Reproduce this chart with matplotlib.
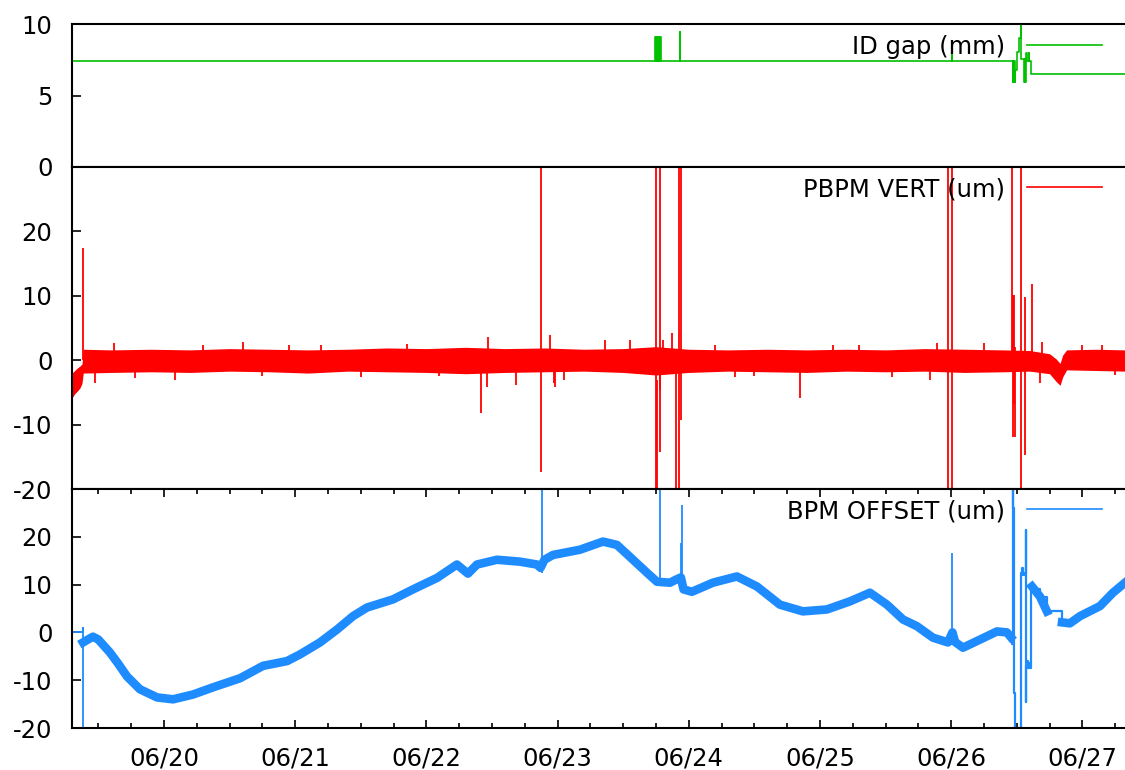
import numpy as np
import matplotlib
matplotlib.use("Agg")
import matplotlib.pyplot as plt
import matplotlib.dates as mdates
from datetime import datetime

# time axis is in "day of June" (decimal), converted to datetimes below
x_start, x_end = 19.299, 27.325

# ID gap (mm), step trace
gap_day = [19.299, 23.742, 23.748, 23.752, 23.758, 23.762, 23.768, 23.772, 23.778, 23.782, 23.788,
           23.932, 23.936, 26.004, 26.008, 26.468, 26.472, 26.476, 26.480, 26.484, 26.489,
           26.499, 26.517, 26.532, 26.536, 26.555, 26.562, 26.566, 26.570, 26.580, 26.590,
           26.593, 26.608, 27.325]
gap_val = [7.41, 9.1, 7.41, 9.1, 7.41, 9.1, 7.41, 9.1, 7.41, 9.1, 7.41,
           9.44, 7.41, 8.3, 7.41, 5.97, 7.41, 5.97, 7.41, 5.97, 6.78,
           8.06, 9.0, 9.93, 7.57, 5.97, 7.57, 5.97, 7.97, 7.41, 7.97,
           7.41, 6.5, 6.5]

# PBPM VERT (um): noise envelope
pbpm_day = [19.299, 19.320, 19.340, 19.360, 19.375, 19.385, 19.6, 19.9, 20.2, 20.5, 20.8, 21.1,
            21.4, 21.7, 22.0, 22.3, 22.6, 22.9, 23.2, 23.5, 23.75, 24.0, 24.3, 24.6, 24.9,
            25.2, 25.5, 25.8, 26.1, 26.4, 26.6, 26.75, 26.80, 26.83, 26.85, 26.88, 27.1, 27.325]
pbpm_hi = [-2.0, -1.6, -1.2, -0.9, -0.6, 1.7, 1.6, 1.7, 1.6, 1.8, 1.7, 1.6,
           1.7, 1.9, 1.8, 2.0, 1.8, 1.9, 1.7, 1.8, 2.1, 1.7, 1.6, 1.7, 1.6,
           1.7, 1.6, 1.8, 1.7, 1.6, 1.5, 1.0, 0.2, -0.5, 0.8, 1.6, 1.7, 1.6]
pbpm_lo = [-5.9, -5.2, -4.8, -4.3, -3.6, -2.0, -1.9, -1.8, -1.9, -1.7, -1.8, -2.0,
           -1.7, -1.8, -1.9, -2.1, -1.9, -1.8, -1.7, -1.9, -2.3, -1.9, -1.7, -1.8, -1.9,
           -1.7, -1.8, -1.7, -1.9, -1.8, -1.7, -2.1, -3.3, -3.9, -2.6, -1.5, -1.6, -1.7]
# small excursions out of the noise band
pbpm_blip_day = [19.474, 19.62, 19.78, 20.084, 20.3, 20.602, 20.75, 20.95, 21.2, 21.5, 21.85,
                 22.1, 22.462, 22.47, 22.683, 22.942, 22.973, 22.98, 23.049, 23.361, 23.552,
                 23.803, 23.872, 24.2, 24.35, 24.5, 24.848, 25.1, 25.3, 25.55, 25.838, 25.89,
                 26.25, 26.677, 26.69, 27.0, 27.15, 27.25]
pbpm_blip_val = [-3.6, 2.6, -2.8, -3.1, 2.4, 2.9, -2.5, 2.4, 2.3, -2.6, 2.5,
                 -2.4, -4.2, 3.6, -3.9, 3.9, -3.6, -4.2, -3.1, 3.1, 3.1,
                 3.1, 4.2, 2.3, -2.6, -2.5, -5.9, 2.4, 2.4, -2.6, -3.1, 2.6,
                 2.6, -3.6, 2.8, 2.4, 2.4, -2.3]
# big spikes (day, low, high)
pbpm_spike_day = [19.383, 22.414, 22.877, 23.752, 23.756, 23.778, 23.782, 23.902, 23.929, 23.944,
                  25.976, 26.006, 26.466, 26.472, 26.478, 26.485, 26.536, 26.564, 26.613]
pbpm_spike_lo = [0, -8.2, -17.3, -20, -20, -14.3, -4.7, -20, -20, -9.3,
                 -20, -20, -1, -11.9, -6.8, -11.9, -20, -14.7, 0]
pbpm_spike_hi = [17.4, 0, 30, 30, -3, 30, 1, 1, 30, 30,
                 30, 30, 30, 10.1, 10.1, 2, 30, 9.8, 11.9]

# BPM OFFSET (um): drift trace
bpm_day = [19.383, 19.42, 19.459, 19.50, 19.588, 19.65, 19.718, 19.817, 19.947, 20.069, 20.221,
           20.373, 20.579, 20.755, 20.938, 21.037, 21.189, 21.319, 21.441, 21.547, 21.745,
           21.898, 22.081, 22.233, 22.317, 22.386, 22.538, 22.713, 22.843, 22.87, 22.9, 22.965,
           23.171, 23.346, 23.453, 23.575, 23.681, 23.758, 23.857, 23.90, 23.940, 23.96, 24.024,
           24.184, 24.367, 24.520, 24.695, 24.870, 25.053, 25.229, 25.381, 25.511, 25.633,
           25.739, 25.861, 25.976, 26.01, 26.03, 26.090, 26.220, 26.349, 26.425, 26.455, np.nan,
           26.616, 26.677, 26.730, np.nan, 26.845, 26.905, 26.982, 27.134, 27.233, 27.325]
bpm_val = [-2.1, -1.5, -0.9, -1.5, -4.2, -6.5, -9.2, -11.9, -13.6, -14.0, -13.0,
           -11.5, -9.6, -7.0, -6.0, -4.6, -2.1, 0.6, 3.4, 5.2, 6.9,
           9.0, 11.4, 14.2, 12.3, 14.2, 15.2, 14.8, 14.2, 13.5, 15.2, 16.2,
           17.3, 19.0, 18.3, 15.2, 12.5, 10.6, 10.4, 11.0, 11.5, 9.0, 8.5,
           10.4, 11.7, 9.6, 5.8, 4.4, 4.8, 6.5, 8.3, 5.8, 2.7,
           1.3, -1.1, -2.1, 0.0, -2.0, -3.2, -1.5, 0.2, 0.0, -1.0, np.nan,
           9.6, 7.5, 4.4, np.nan, 2.1, 1.9, 3.4, 5.5, 8.3, 10.4]
# thin parts of the BPM trace
bpm_thin_day = [19.299, 19.383, 19.383, 19.383]
bpm_thin_val = [0.0, 0.0, 1.0, -20]
bpm_burst_day = [26.455, 26.466, 26.468, 26.472, 26.476, 26.480, 26.486, 26.528, 26.534, 26.540,
                 26.548, 26.556, 26.566, 26.568, 26.570, 26.574, 26.580, 26.586, 26.596, 26.600,
                 26.605, 26.616, 26.677, 26.730, 26.829, 26.845]
bpm_burst_val = [-1.0, -2.5, 30, 26, -12, -12.6, -20, -20, 12.5, 13.5,
                 12.0, 12.5, 12.5, 21.5, -14.6, -7, -6, -7.5, -6.5, -7.5,
                 9.6, 9.0, 7.5, 4.4, 4.4, 2.1]
bpm_spike_day = [22.881, 23.778, 23.942, 23.948, 26.006]
bpm_spike_lo = [12.5, 10.6, 9.5, 11.0, -2.0]
bpm_spike_hi = [30, 30, 18.8, 26.7, 16.7]

green = "#00c000"
red = "#ff0000"
blue = "#1e8cff"

base = mdates.date2num(datetime(2014, 6, 1))


def to_num(days):
    # day-of-June -> matplotlib date number
    return base + np.asarray(days, dtype=float) - 1


plt.rcParams["font.family"] = "DejaVu Sans"
plt.rcParams["font.size"] = 17.5
plt.rcParams["axes.unicode_minus"] = False

fig = plt.figure(figsize=(11.25, 7.7), dpi=100)
W, H = 1125, 770
left, right = 72 / W, 1.0
panels = [(24, 167), (167, 489), (489, 728)]
axes = [fig.add_axes([left, 1 - b / H, right - left, (b - t) / H]) for t, b in panels]
ax_gap, ax_pbpm, ax_bpm = axes

# ID gap
ax_gap.plot(to_num(gap_day), gap_val, color=green, lw=1.2, drawstyle="steps-post", label="ID gap (mm)")
ax_gap.set_ylim(0, 10)
ax_gap.set_yticks([0, 5, 10])

# PBPM VERT
ax_pbpm.fill_between(to_num(pbpm_day), pbpm_lo, pbpm_hi, color=red, lw=0)
ax_pbpm.vlines(to_num(pbpm_blip_day), 0, pbpm_blip_val, color=red, lw=1.3)
ax_pbpm.vlines(to_num(pbpm_spike_day), pbpm_spike_lo, pbpm_spike_hi, color=red, lw=1.3)
ax_pbpm.plot([], [], color=red, lw=1.2, label="PBPM VERT (um)")
ax_pbpm.set_ylim(-20, 30)
ax_pbpm.set_yticks([-20, -10, 0, 10, 20])

# BPM OFFSET
ax_bpm.plot(to_num(bpm_day), bpm_val, color=blue, lw=6.2)
ax_bpm.plot(to_num(bpm_thin_day), bpm_thin_val, color=blue, lw=1.3)
ax_bpm.plot(to_num(bpm_burst_day), bpm_burst_val, color=blue, lw=1.6, drawstyle="steps-post")
ax_bpm.vlines(to_num(bpm_spike_day), bpm_spike_lo, bpm_spike_hi, color=blue, lw=1.3)
ax_bpm.plot([], [], color=blue, lw=1.2, label="BPM OFFSET (um)")
ax_bpm.set_ylim(-20, 30)
ax_bpm.set_yticks([-20, -10, 0, 10, 20])

# legend top edges (pixels from figure top)
legend_top = [35, 177, 499]

for ax, (t, b), ytop in zip(axes, panels, legend_top):
    ax.set_xlim(to_num([x_start, x_end]))
    ax.xaxis_date()
    for s in ["top", "bottom", "left"]:
        ax.spines[s].set_linewidth(1.5)
    ax.spines["right"].set_visible(False)
    ax.tick_params(axis="y", direction="in", length=6.5, width=1.2, pad=14, right=False)
    ax.legend(loc="upper right", frameon=False, markerfirst=False,
              bbox_to_anchor=((1102 - 72) / (W - 72), 1 - (ytop - t) / (b - t)),
              borderaxespad=0, borderpad=0, handlelength=3.1, handletextpad=0.9)

for ax in [ax_gap, ax_pbpm]:
    ax.tick_params(axis="x", which="both", bottom=False, top=False, labelbottom=False)

ax_bpm.xaxis.set_major_locator(mdates.DayLocator())
ax_bpm.xaxis.set_minor_locator(mdates.HourLocator(byhour=[0, 6, 12, 18]))
ax_bpm.xaxis.set_major_formatter(mdates.DateFormatter("%m/%d"))
ax_bpm.tick_params(axis="x", which="major", direction="in", length=5.5, width=1.2,
                   top=True, bottom=True, pad=13)
ax_bpm.tick_params(axis="x", which="minor", direction="in", length=3.5, width=1.2,
                   top=True, bottom=True)

fig.savefig("out.png", dpi=100)
